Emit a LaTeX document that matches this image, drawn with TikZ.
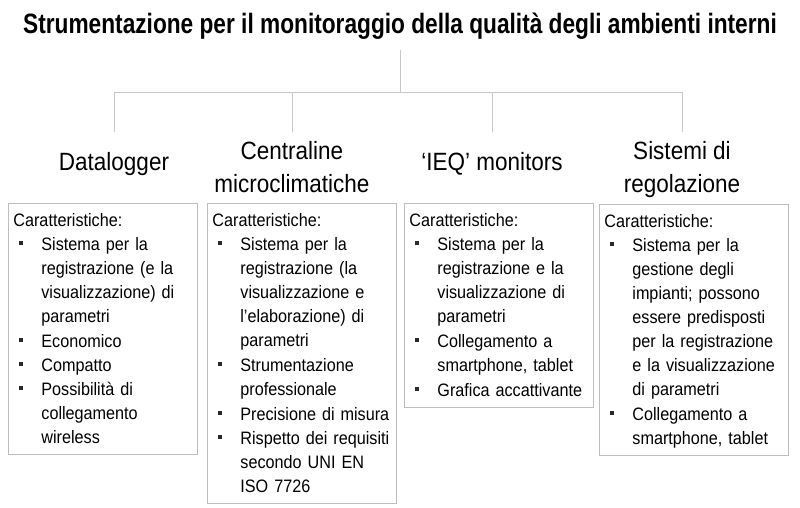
\documentclass[tikz,border=0pt]{standalone}
\usepackage{fontspec}
\setmainfont{Liberation Sans}[FakeStretch=0.9]
\newfontfamily\titolofont{Liberation Sans}[FakeStretch=0.81]
\definecolor{linea}{RGB}{200,200,200}
\definecolor{bordo}{RGB}{190,190,190}
\definecolor{punto}{RGB}{40,40,40}

\newcommand{\voce}[1]{\par\noindent\hspace*{6pt}\textcolor{punto}{\rule[5pt]{4pt}{4pt}}\hspace{18pt}\begin{tabular}[t]{@{}l@{}}#1\end{tabular}}
\newcommand{\inizio}{\noindent\rule{0pt}{23pt}Caratteristiche:}
\newcommand{\fine}{\rule[-11pt]{0pt}{11pt}}

\tikzstyle{titolo}=[font=\titolofont\fontsize{28}{32}\selectfont\bfseries, inner sep=10pt]
\tikzstyle{tipo}=[font=\fontsize{25}{33}\selectfont, align=center, anchor=north, inner sep=0pt]
\tikzstyle{scheda}=[draw=bordo, line width=0.8pt, anchor=north west, text width=179pt, inner xsep=5pt, inner ysep=0pt, align=left, font=\fontsize{18}{24}\selectfont]

\begin{document}
\begin{tikzpicture}[x=1pt, y=-1pt]
\useasboundingbox (0,0) rectangle (800,508);

\node[titolo, anchor=base](t) at (400,34) {Strumentazione per il monitoraggio della qualità degli ambienti interni};
\coordinate (bar) at (400,92);

\node[tipo](h1) at (114,132) {\rule{0pt}{38pt}Datalogger};
\node[tipo](h2) at (292,132) {\rule{0pt}{27pt}Centraline\\microclimatiche};
\node[tipo](h3) at (492,132) {\rule{0pt}{38pt}‘IEQ’ monitors};
\node[tipo](h4) at (682,132) {\rule{0pt}{27pt}Sistemi di\\regolazione};

\begin{scope}[every path/.style={draw=linea, line width=0.8pt}]
       \draw (t.south) -- (bar);
       \draw (h1.north |- bar) -- (h4.north |- bar);
       \draw (h1.north |- bar) -- (h1.north);
       \draw (h2.north |- bar) -- (h2.north);
       \draw (h3.north |- bar) -- (h3.north);
       \draw (h4.north |- bar) -- (h4.north);
\end{scope}

\node[scheda](b1) at (8,203) {\inizio
\voce{Sistema per la\\registrazione (e la\\visualizzazione) di\\parametri}
\voce{Economico}
\voce{Compatto}
\voce{Possibilità di\\collegamento\\wireless\fine}};

\node[scheda](b2) at (207,203) {\inizio
\voce{Sistema per la\\registrazione (la\\visualizzazione e\\l’elaborazione) di\\parametri}
\voce{Strumentazione\\professionale}
\voce{Precisione di misura}
\voce{Rispetto dei requisiti\\secondo UNI EN\\ISO 7726\fine}};

\node[scheda](b3) at (404,203) {\inizio
\voce{Sistema per la\\registrazione e la\\visualizzazione di\\parametri}
\voce{Collegamento a\\smartphone, tablet}
\voce{Grafica accattivante\fine}};

\node[scheda](b4) at (599,204) {\inizio
\voce{Sistema per la\\gestione degli\\impianti; possono\\essere predisposti\\per la registrazione\\e la visualizzazione\\di parametri}
\voce{Collegamento a\\smartphone, tablet\fine}};
\end{tikzpicture}
\end{document}
